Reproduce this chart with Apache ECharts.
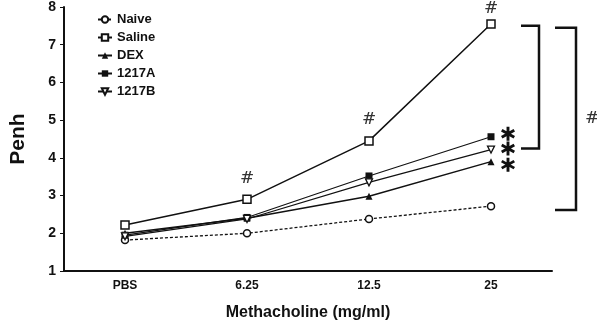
<!DOCTYPE html>
<html>
<head>
<meta charset="utf-8">
<script src="https://cdn.jsdelivr.net/npm/echarts@6/dist/echarts.min.js"></script>
<style>
html, body { margin: 0; padding: 0; background: #fff; }
#main { width: 597px; height: 326px; }
</style>
</head>
<body>
<div id="main"></div>
<script>
var doses = ['PBS', '6.25', '12.5', '25'];
var naive = [1.82, 2.0, 2.38, 2.72];
var saline = [2.22, 2.9, 4.45, 7.55];
var dex = [2.0, 2.4, 2.98, 3.9];
var a1217 = [1.95, 2.42, 3.52, 4.56];
var b1217 = [1.92, 2.38, 3.35, 4.22];
// bracket ends (Penh values)
var bracket1 = [7.5, 4.25];
var bracket2 = [7.45, 2.62];

var chart = echarts.init(document.getElementById('main'));
var font = 'Liberation Sans, Arial, sans-serif';
var asterisk = 'path://M-1.4,-7L1.4,-7L1.4,7L-1.4,7ZM5.362,-4.712L6.762,-2.288L-5.362,4.712L-6.762,2.288ZM-6.762,-2.288L-5.362,-4.712L6.762,2.288L5.362,4.712Z';

function hashMark(vals) {
    return {
        symbol: 'circle', symbolSize: 1,
        itemStyle: { color: 'transparent' },
        label: { show: true, position: 'inside', formatter: '#', color: '#333', fontSize: 17, fontFamily: 'DejaVu Serif', offset: [0, -21] },
        data: [1, 2, 3].map(function (i) {
            var d = { coord: [doses[i], vals[i]] };
            if (i === 3) d.label = { offset: [0, -15] };
            return d;
        })
    };
}
function starMark(vals, dy) {
    return {
        symbol: asterisk, symbolSize: 14, symbolOffset: [17, dy],
        itemStyle: { color: '#111' },
        label: { show: false },
        data: [{ coord: ['25', vals[3]] }]
    };
}

var lineBase = { type: 'line', symbolSize: 7, animation: false, z: 3 };

var option = {
    animation: false,
    grid: { left: 56, right: 45, top: 5, bottom: 49 },
    legend: {
        orient: 'vertical', left: 92, top: 8, itemGap: 5, itemWidth: 14, itemHeight: 8,
        textStyle: { fontFamily: font, fontWeight: 'bold', fontSize: 13, color: '#111' },
        data: ['Naive', 'Saline', 'DEX', '1217A', '1217B']
    },
    xAxis: {
        type: 'category', data: doses,
        name: 'Methacholine (mg/ml)', nameLocation: 'middle', nameGap: 34,
        nameTextStyle: { fontFamily: font, fontWeight: 'bold', fontSize: 16, color: '#111' },
        axisLine: { lineStyle: { color: '#111', width: 2 } },
        axisTick: { alignWithLabel: true, length: 4, lineStyle: { color: '#111' } },
        axisLabel: { fontFamily: font, fontWeight: 'bold', fontSize: 12, color: '#111', margin: 9 }
    },
    yAxis: {
        type: 'value', min: 1, max: 8, interval: 1,
        name: 'Penh', nameLocation: 'middle', nameGap: 35,
        nameTextStyle: { fontFamily: font, fontWeight: 'bold', fontSize: 21, color: '#111' },
        axisLine: { show: true, lineStyle: { color: '#111', width: 2 } },
        axisTick: { show: true, length: 4, lineStyle: { color: '#111' } },
        splitLine: { show: false },
        axisLabel: { fontFamily: font, fontWeight: 'bold', fontSize: 14, color: '#111', margin: 8 }
    },
    series: [
        Object.assign({}, lineBase, {
            name: 'Naive', data: naive, symbol: 'circle', symbolSize: 7,
            itemStyle: { color: '#fff', borderColor: '#111', borderWidth: 1.5 },
            lineStyle: { color: '#111', width: 1.3, type: [3, 2] }
        }),
        Object.assign({}, lineBase, {
            name: 'Saline', data: saline, symbol: 'rect', symbolSize: 8,
            itemStyle: { color: '#fff', borderColor: '#111', borderWidth: 1.5 },
            lineStyle: { color: '#111', width: 1.5 },
            markPoint: hashMark(saline)
        }),
        Object.assign({}, lineBase, {
            name: 'DEX', data: dex, symbol: 'triangle', symbolSize: 7,
            itemStyle: { color: '#111' },
            lineStyle: { color: '#111', width: 1.5 },
            markPoint: starMark(dex, 3)
        }),
        Object.assign({}, lineBase, {
            name: '1217A', data: a1217, symbol: 'rect', symbolSize: 7,
            itemStyle: { color: '#111' },
            lineStyle: { color: '#111', width: 1.2 },
            markPoint: starMark(a1217, -3)
        }),
        Object.assign({}, lineBase, {
            name: '1217B', data: b1217, symbol: 'triangle', symbolRotate: 180, symbolSize: 7,
            itemStyle: { color: '#fff', borderColor: '#111', borderWidth: 1.3 },
            lineStyle: { color: '#111', width: 1.2 },
            markPoint: starMark(b1217, -1)
        })
    ]
};
chart.setOption(option);

// significance brackets at the right
var x25 = chart.convertToPixel({ xAxisIndex: 0 }, '25');
function yPix(v) { return chart.convertToPixel({ yAxisIndex: 0 }, v); }
function bracket(x0, x1, vals) {
    var t = yPix(vals[0]), b = yPix(vals[1]);
    return {
        type: 'polyline',
        shape: { points: [[x0, t], [x1, t], [x1, b], [x0, b]] },
        style: { stroke: '#111', lineWidth: 2.5, fill: null }
    };
}
chart.setOption({
    graphic: [
        bracket(x25 + 30, x25 + 48, bracket1),
        bracket(x25 + 64, x25 + 85, bracket2),
        {
            type: 'text', x: x25 + 101, y: yPix((bracket2[0] + bracket2[1]) / 2),
            style: { text: '#', font: '17px DejaVu Serif', fill: '#333', align: 'center', verticalAlign: 'middle' }
        }
    ]
});
</script>
</body>
</html>
